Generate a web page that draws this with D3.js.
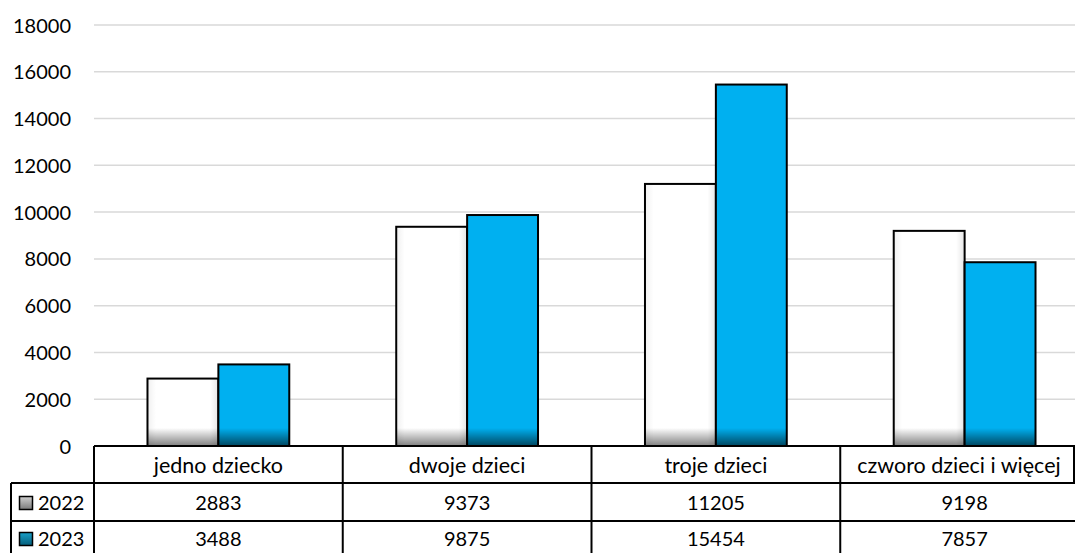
<!DOCTYPE html>
<html><head><meta charset="utf-8">
<script src="https://cdn.jsdelivr.net/npm/d3@7"></script>
<style>body{margin:0;background:#fff;} svg{display:block;font-family:Lato,"Open Sans",sans-serif;}</style>
</head><body><svg id="c" width="1075" height="553"></svg>
<script>
const categories = ["jedno dziecko","dwoje dzieci","troje dzieci","czworo dzieci i więcej"];
const seriesNames = ["2022","2023"];
const values2022 = [2883,9373,11205,9198];
const values2023 = [3488,9875,15454,7857];
const yTicks = [0,2000,4000,6000,8000,10000,12000,14000,16000,18000];

(function(){
const series = [
  {name: seriesNames[0], values: values2022, fill:"#ffffff", shade:"url(#shadeW)", key:"url(#keyW)"},
  {name: seriesNames[1], values: values2023, fill:"#00b0f0", shade:"url(#shadeB)", key:"url(#keyB)"}
];
const numSize = 20, lblSize = 21.5;

const svg = d3.select("#c");
const pL = 94, pR = 1089, pT = 25, pB = 446;
const x0 = d3.scaleBand().domain(categories).range([pL, pR]).padding(0);
const bw = x0.bandwidth();
const gap = bw*0.215;
const x1 = d3.scaleBand().domain(seriesNames).range([gap, bw-gap]).padding(0);
const y = d3.scaleLinear().domain([0,18000]).range([pB, pT]);

const defs = svg.append("defs");
function grad(id, stops){
  const g = defs.append("linearGradient").attr("id",id).attr("x1",0).attr("y1",0).attr("x2",0).attr("y2",1);
  stops.forEach(s=>g.append("stop").attr("offset",s[0]).attr("stop-color",s[1]).attr("stop-opacity",s[2]));
}
grad("shadeW",[[0,"#000",0],[1,"#000",0.5]]);
grad("shadeB",[[0,"#000",0],[1,"#000",0.6]]);
const sideW = defs.append("linearGradient").attr("id","sideW").attr("x1",0).attr("y1",0).attr("x2",1).attr("y2",0);
[[0,0.06],[0.12,0],[0.88,0],[1,0.1]].forEach(s=>sideW.append("stop").attr("offset",s[0]).attr("stop-color","#000").attr("stop-opacity",s[1]));
grad("keyW",[[0,"#d0d0d0",1],[1,"#7a7a7a",1]]);
grad("keyB",[[0,"#1aa0c8",1],[1,"#055e7a",1]]);

svg.append("g").selectAll("line").data(yTicks.filter(t=>t>0)).join("line")
  .attr("x1",pL).attr("x2",1075).attr("y1",d=>y(d)).attr("y2",d=>y(d))
  .attr("stroke","#d9d9d9").attr("stroke-width",1.5);

const yAxis = d3.axisLeft(y).tickValues(yTicks).tickSize(0).tickPadding(0).tickFormat(d3.format("d"));
const ya = svg.append("g").attr("transform","translate(71,0)").call(yAxis);
ya.select(".domain").remove();
ya.selectAll("text").attr("font-size",numSize).attr("fill","#000").attr("font-family","Lato,sans-serif").attr("dy","0.35em");

const groups = svg.append("g").selectAll("g").data(categories).join("g")
  .attr("transform",d=>`translate(${x0(d)},0)`);
series.forEach(s=>{
  groups.each(function(cat,i){
    const g = d3.select(this);
    const bx = x1(s.name), bwid = x1.bandwidth(), by = y(s.values[i]), bh = pB - by;
    g.append("rect").attr("x",bx).attr("y",by).attr("width",bwid).attr("height",bh).attr("fill",s.fill);
    if(s.name==="2022") g.append("rect").attr("x",bx).attr("y",by).attr("width",bwid).attr("height",bh).attr("fill","url(#sideW)");
    const sh = Math.min(18,bh);
    g.append("rect").attr("x",bx).attr("y",pB-sh).attr("width",bwid).attr("height",sh).attr("fill",s.shade);
    g.append("rect").attr("x",bx).attr("y",by).attr("width",bwid).attr("height",bh)
      .attr("fill","none").attr("stroke","#000").attr("stroke-width",2);
  });
});

const r1 = 446, r2 = 483, r3 = 521, r4 = 560;
const tbl = svg.append("g").attr("stroke","#000").attr("stroke-width",2);
tbl.append("line").attr("x1",pL).attr("x2",1075).attr("y1",r1).attr("y2",r1);
tbl.append("line").attr("x1",11).attr("x2",1075).attr("y1",r2).attr("y2",r2);
tbl.append("line").attr("x1",11).attr("x2",1075).attr("y1",r3).attr("y2",r3);
tbl.append("line").attr("x1",11).attr("x2",11).attr("y1",r2).attr("y2",r4);
const vlines = categories.map(c=>x0(c));
tbl.selectAll(".v").data(vlines).join("line").attr("class","v")
  .attr("x1",d=>d).attr("x2",d=>d).attr("y1",r1).attr("y2",r4);
tbl.append("line").attr("x1",1074).attr("x2",1074).attr("y1",r1).attr("y2",r2);

const txt = svg.append("g").attr("fill","#000").attr("text-anchor","middle");
txt.selectAll(".h").data(categories).join("text").attr("class","h").attr("font-size",lblSize)
  .attr("x",d=>d===categories[3] ? 959 : x0(d)+bw/2).attr("y",(r1+r2)/2+1).attr("dy","0.35em").text(d=>d);
series.forEach((s,si)=>{
  const ry = si===0 ? (r2+r3)/2+1 : (r3+553)/2+2;
  txt.selectAll(".v"+si).data(s.values).join("text").attr("class","v"+si).attr("font-size",numSize)
    .attr("x",(d,i)=>x0(categories[i])+bw/2).attr("y",ry).attr("dy","0.35em").text(d=>d);
  svg.append("rect").attr("x",19.5).attr("y",ry-6.5).attr("width",13).attr("height",13)
    .attr("fill",s.key).attr("stroke","#000").attr("stroke-width",1.5);
  svg.append("text").attr("x",38).attr("y",ry).attr("dy","0.35em").attr("font-size",numSize).text(s.name);
});
})();
</script></body></html>
